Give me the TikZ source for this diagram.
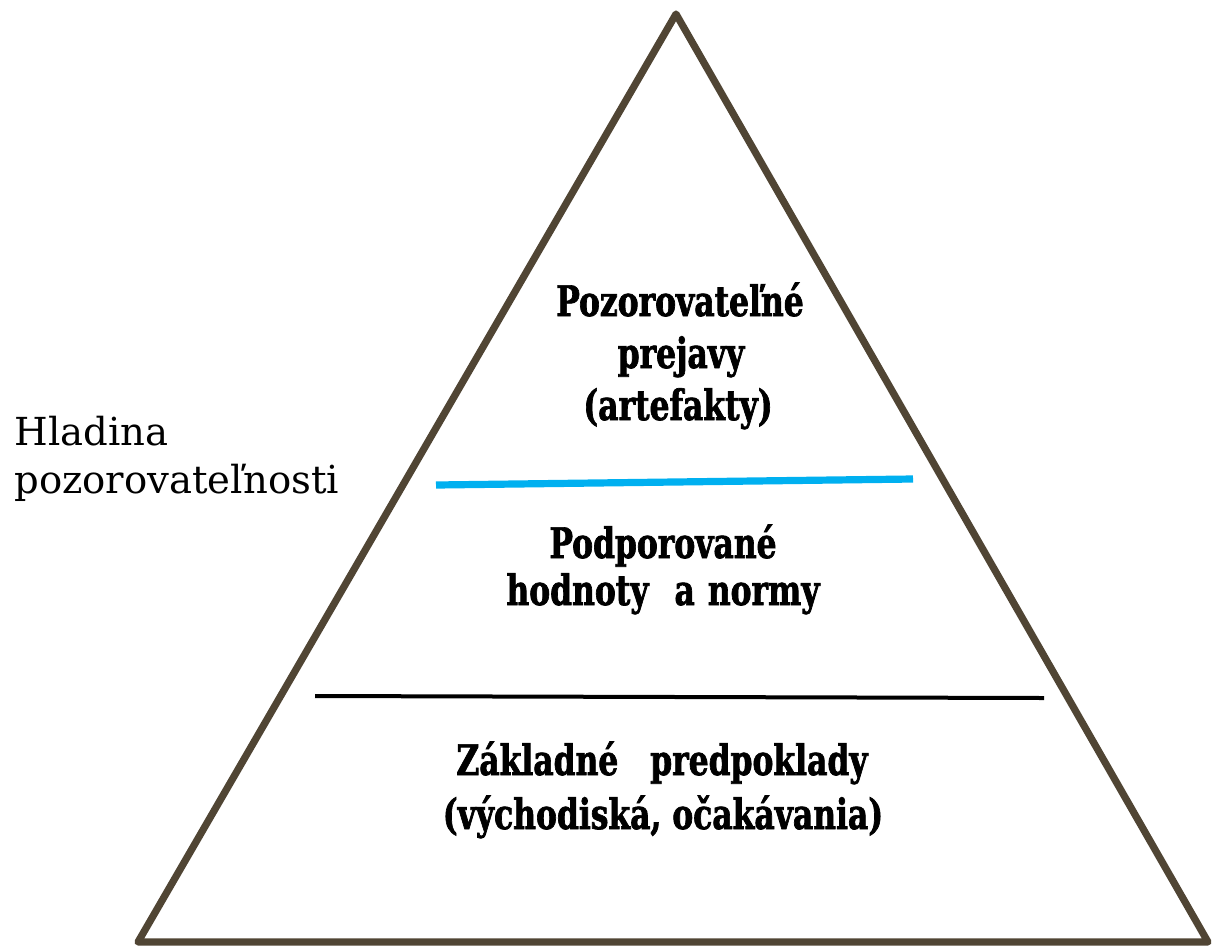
\documentclass[tikz,border=0pt]{standalone}
\usepackage{fontspec}
\setmainfont{DejaVu Serif}
\newfontfamily\heavy{DejaVu Serif Condensed Bold}[FakeStretch=0.83,FakeBold=1.6]
\definecolor{tribrown}{RGB}{80,69,52}
\definecolor{skyline}{RGB}{0,176,240}
\begin{document}
\begin{tikzpicture}[x=0.5pt,y=-0.5pt,
  boldtxt/.style={anchor=base,inner sep=0pt,font=\heavy\fontsize{21}{24}\selectfont},
  sidetxt/.style={anchor=base west,inner sep=0pt,font=\fontsize{19.3}{22}\selectfont}]
\useasboundingbox (0,0) rectangle (1214,948);
\fill[white] (0,0) rectangle (1214,948);
\coordinate (apex) at (676,14);
\coordinate (bl) at (138,942);
\coordinate (br) at (1208,942);
\draw[tribrown,line width=3.6pt,line join=round] (apex) -- (br) -- (bl) -- cycle;
\coordinate (b1) at (436,485);
\coordinate (b2) at (913,479);
\draw[skyline,line width=3.6pt] (b1) -- (b2);
\coordinate (k1) at (315,696);
\coordinate (k2) at (1044,698);
\draw[black,line width=2pt] (k1) -- (k2);
\node[boldtxt] (t1) at (680,316) {Pozorovateľné};
\node[boldtxt] (t2) at (681,368) {prejavy};
\node[boldtxt] (t3) at (678,420) {(artefakty)};
\node[boldtxt] (t4) at (663,558) {Podporované};
\node[boldtxt] (t5) at (663,605) {hodnoty\hspace{13pt}a\hspace{6.5pt}normy};
\node[boldtxt] (t6) at (662,775) {Základné\hspace{16pt}predpoklady};
\node[boldtxt] (t7) at (663,829) {(východiská, očakávania)};
\node[sidetxt] (s1) at (14,445) {Hladina};
\node[sidetxt] (s2) at (14,493) {pozorovateľnosti};
\end{tikzpicture}
\end{document}
